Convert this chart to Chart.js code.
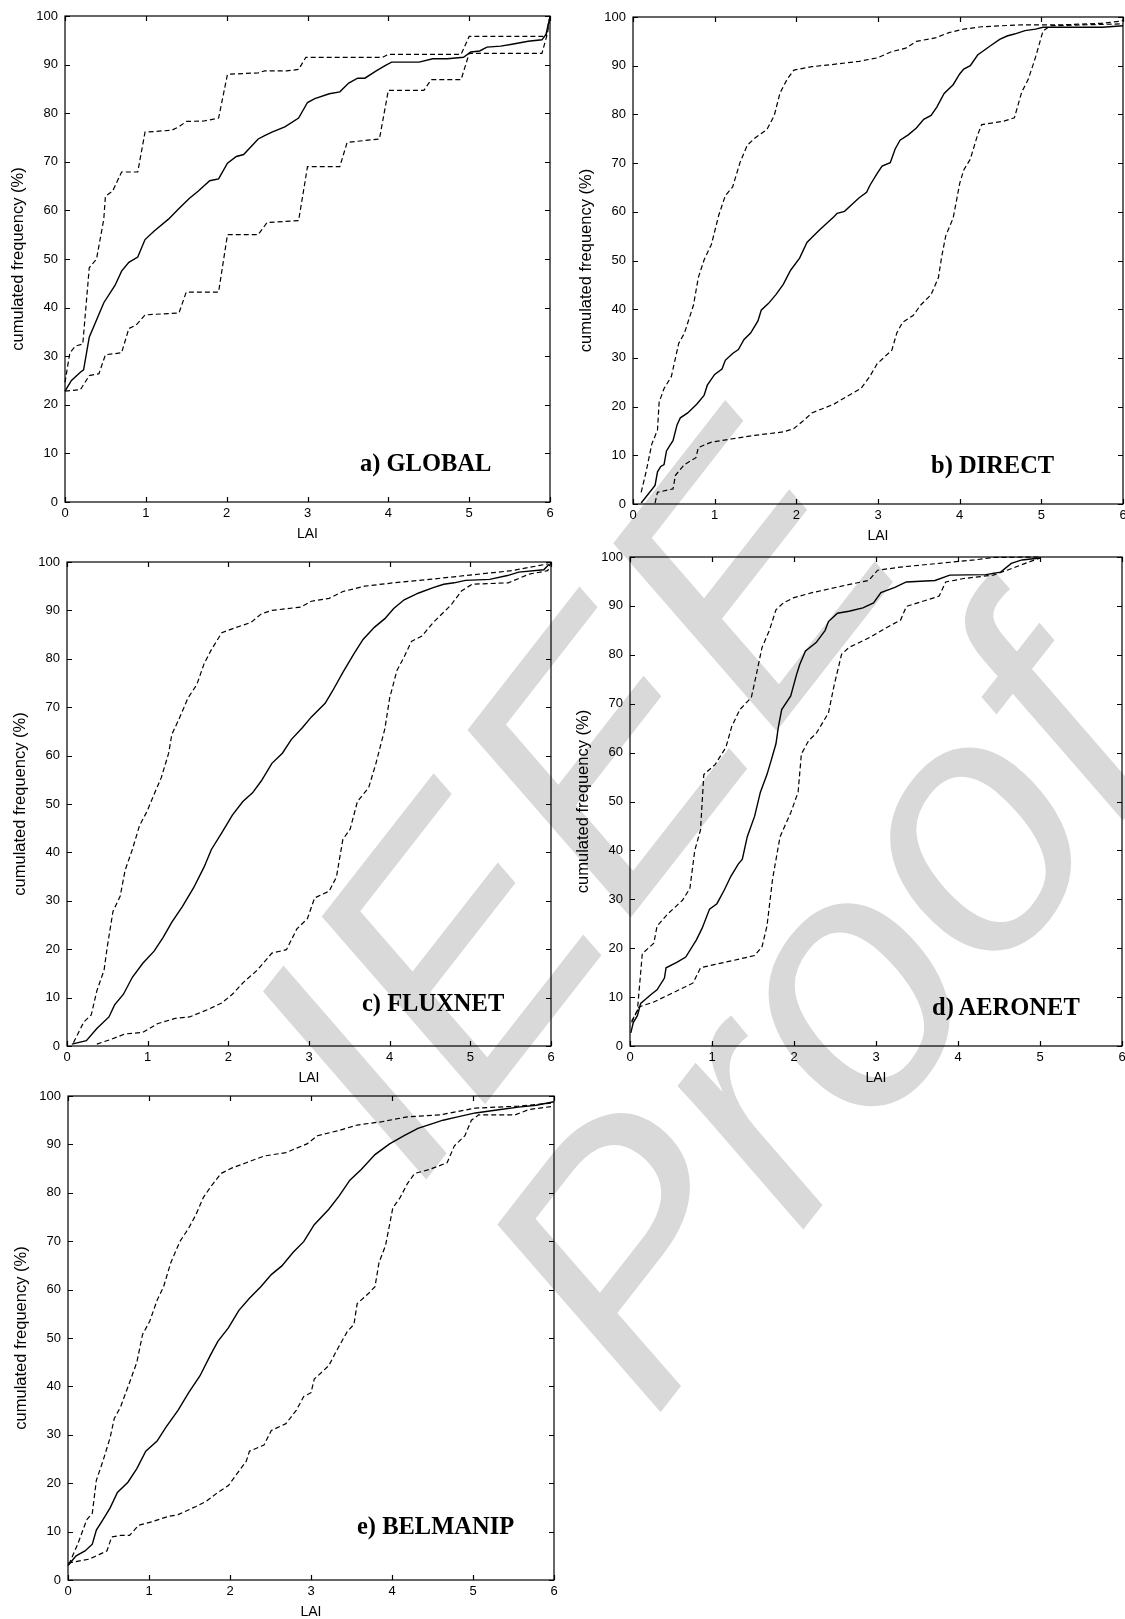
<!DOCTYPE html>
<html><head><meta charset="utf-8">
<script src="https://cdn.jsdelivr.net/npm/chart.js@4.4.0/dist/chart.umd.min.js"></script>
<style>
html,body{margin:0;padding:0;background:#fff;width:1125px;height:1619px;overflow:hidden;position:relative}
.panel{position:absolute;z-index:2}
.lbl{position:absolute;z-index:3;font-family:'Liberation Serif','Times New Roman',serif;font-size:24.5px;font-weight:bold;color:#000;white-space:nowrap;line-height:30px}
#wm{position:absolute;left:0;top:0;width:0;height:0;transform-origin:0 0;z-index:1}
#wm span{position:absolute;font-family:'Liberation Sans',Arial,sans-serif;font-style:italic;color:#d9d9d9;white-space:nowrap}
</style></head><body>
<div id="wm"></div>
<script>
// ---------- DATA ----------
const xTicks = [0,1,2,3,4,5,6];
const yTicks = [0,10,20,30,40,50,60,70,80,90,100];
const panelLabels = ['a) GLOBAL','b) DIRECT','c) FLUXNET','d) AERONET','e) BELMANIP'];
const xTitle = 'LAI';
const yTitle = 'cumulated frequency (%)';
const watermarkWords = ['IEEE','Proof'];

// a) GLOBAL
const globalMeanLAI = [0,0.08,0.19,0.23,0.3,0.48,0.62,0.7,0.79,0.9,0.99,1.1,1.28,1.41,1.54,1.65,1.79,1.9,2.01,2.12,2.21,2.39,2.47,2.56,2.72,2.89,3.0,3.09,3.27,3.4,3.51,3.62,3.71,3.85,3.96,4.04,4.38,4.55,4.73,4.93,5.02,5.13,5.22,5.39,5.53,5.73,5.9,5.95,6];
const globalMeanFreq = [22.8,25,26.7,27.2,33.9,41,44.6,47.5,49.3,50.4,54,55.7,58.2,60.4,62.5,64,66.1,66.5,69.7,71.1,71.5,74.7,75.4,76.1,77.2,79,82.2,83,84,84.4,86.2,87.2,87.2,88.7,89.8,90.5,90.5,91.2,91.2,91.5,92.6,92.8,93.6,93.8,94.2,94.8,95.1,96.2,99.8];
const globalUpperLAI = [0,0.06,0.13,0.22,0.3,0.39,0.48,0.5,0.59,0.7,0.9,0.99,1.32,1.41,1.5,1.72,1.9,2.01,2.39,2.47,2.74,2.89,2.98,3.93,4.0,4.9,5.0,5.95,6];
const globalUpperFreq = [24.6,30.7,32.1,32.5,48.2,50,58.2,62.9,64,67.9,67.9,76.1,76.5,77.2,78.3,78.4,79,88,88.3,88.7,88.7,89,91.5,91.5,92.1,92.1,95.8,95.8,100];
const globalLowerLAI = [0,0.19,0.3,0.42,0.5,0.7,0.79,0.88,0.99,1.41,1.5,1.9,2.01,2.39,2.5,2.89,3.0,3.4,3.49,3.89,4.0,4.44,4.53,4.9,5.0,5.9,5.97,6];
const globalLowerFreq = [22.8,23.1,26,26.4,30.3,30.7,35.7,36.4,38.5,38.9,43.2,43.2,55,55,57.5,57.9,69,69,74,74.7,84.7,84.7,86.9,86.9,92.3,92.3,96.5,100];

// b) DIRECT
const directMeanLAI = [0.1,0.27,0.3,0.34,0.38,0.41,0.45,0.49,0.54,0.58,0.67,0.78,0.87,0.91,1.0,1.09,1.13,1.22,1.29,1.36,1.44,1.53,1.57,1.66,1.75,1.84,1.93,2.04,2.13,2.19,2.28,2.37,2.46,2.5,2.59,2.68,2.77,2.86,2.9,2.99,3.05,3.15,3.21,3.27,3.37,3.47,3.56,3.65,3.72,3.81,3.92,4.0,4.05,4.13,4.22,4.36,4.49,4.58,4.67,4.8,4.93,5.02,5.75,6];
const directMeanFreq = [0.2,3.8,6.6,7.7,8.1,10.9,12,13,16.3,17.7,18.7,20.5,22.3,24.4,26.6,27.7,29.5,30.9,31.7,33.8,35.1,37.6,39.8,41.2,43,45.1,48,50.5,53.7,54.7,56.2,57.6,59,59.7,60.1,61.5,62.9,64,65.4,67.9,69.4,70.1,72.9,74.7,75.8,77.2,79,79.8,81.5,84.3,86.1,88.3,89.3,90,92.2,93.9,95.4,96.1,96.5,97.2,97.5,97.9,97.9,98.2];
const directUpperLAI = [0.1,0.16,0.23,0.3,0.32,0.38,0.47,0.56,0.63,0.74,0.8,0.87,0.96,1.05,1.13,1.22,1.31,1.4,1.49,1.64,1.73,1.8,1.89,1.97,2.19,2.42,2.77,2.99,3.17,3.34,3.47,3.7,3.87,4.05,4.27,4.76,5.28,5.73,5.95,6];
const directUpperFreq = [2.4,6.6,12.3,15.2,20.9,23.7,26.2,33,35.1,40.8,46.5,50.1,53.3,59.3,63.3,65.1,70.1,73.7,75.1,76.9,79.8,84.4,87.3,89.1,89.8,90.2,90.9,91.6,92.9,93.6,95,95.7,96.8,97.5,98,98.4,98.4,98.7,99.1,99.3];
const directLowerLAI = [0.27,0.3,0.49,0.52,0.63,0.77,0.8,0.96,1.22,1.49,1.84,1.97,2.1,2.19,2.46,2.64,2.79,2.9,2.99,3.17,3.23,3.3,3.43,3.52,3.65,3.74,3.78,3.83,3.92,3.96,4.0,4.05,4.13,4.22,4.27,4.54,4.67,4.76,4.84,4.93,5.02,5.11,6];
const directLowerFreq = [0.2,2.4,3.1,5.9,8.1,9.5,11.6,12.7,13.4,14.1,14.8,15.5,17.3,18.7,20.5,22.3,23.7,26.2,28.8,31.6,35.1,37.3,38.7,40.8,43,46.5,50.8,55.1,58.7,62.2,65.8,68.6,70.8,75.8,77.9,78.6,79.3,84.6,87.2,91.8,97.1,98.2,98.6];

// c) FLUXNET
const fluxMeanLAI = [0.06,0.24,0.37,0.52,0.59,0.7,0.81,0.94,1.08,1.19,1.3,1.43,1.57,1.7,1.79,1.92,2.05,2.18,2.3,2.41,2.54,2.67,2.78,2.92,3.03,3.2,3.29,3.42,3.56,3.67,3.81,3.94,4.05,4.18,4.36,4.54,4.67,4.8,4.94,5.24,5.46,5.6,5.91,5.98];
const fluxMeanFreq = [0.4,1.1,3.6,6,8.5,10.7,14.2,17.1,19.6,22.4,25.6,28.8,32.7,37,40.6,44.1,47.7,50.5,52.3,54.8,58.4,60.5,63.3,65.8,68,70.8,73.3,77.2,81.1,84,86.5,88.3,90.4,92.2,93.6,94.7,95.4,95.7,96.2,96.4,97.2,97.9,98.4,99.6];
const fluxUpperLAI = [0.08,0.21,0.3,0.37,0.46,0.5,0.57,0.66,0.72,0.81,0.9,0.99,1.08,1.17,1.26,1.3,1.39,1.5,1.61,1.7,1.79,1.92,2.1,2.28,2.41,2.54,2.9,3.03,3.25,3.42,3.69,4.05,4.49,4.94,5.51,5.96];
const fluxUpperFreq = [0.7,5,6.4,11.4,15.7,20.6,27.8,31,36.3,40.6,45.6,48.4,52,55.5,60.5,64.4,67.6,71.9,74.7,79,81.9,85.4,86.5,87.5,89.3,90,90.7,91.9,92.5,93.9,95,95.7,96.4,97.2,98.2,99.6];
const fluxLowerLAI = [0.37,0.55,0.72,0.94,1.12,1.34,1.52,1.74,1.92,2.05,2.19,2.36,2.54,2.72,2.85,2.98,3.07,3.25,3.34,3.42,3.51,3.6,3.74,3.83,3.94,4.0,4.09,4.18,4.27,4.4,4.54,4.76,4.89,5.02,5.47,5.73,5.96,6];
const fluxLowerFreq = [0.4,1.4,2.5,2.8,4.6,5.7,6,7.5,8.9,10.7,13.2,15.7,19.2,19.9,24.2,26.3,30.6,32,34.9,42.7,44.8,50.5,53.4,58.4,65.5,71.9,77.6,80.4,83.6,84.7,87.5,91.1,94,95.4,95.7,97.5,98.2,100];

// d) AERONET
const aeroMeanLAI = [0.01,0.04,0.09,0.13,0.2,0.26,0.33,0.42,0.44,0.57,0.68,0.81,0.88,0.97,1.06,1.15,1.23,1.32,1.37,1.43,1.52,1.59,1.67,1.72,1.78,1.81,1.85,1.96,2.03,2.07,2.14,2.27,2.38,2.42,2.53,2.67,2.84,2.97,3.06,3.23,3.37,3.72,3.9,4.34,4.52,4.65,4.78,5.0];
const aeroMeanFreq = [2.7,4.8,6.2,8.7,9.7,10.6,11.5,13.9,16,17.1,18.2,21.7,24.1,28,29.1,31.9,34.7,37.2,38.2,42.8,47,51.9,55.5,58.3,61.8,65.3,68.8,71.6,75.9,78,80.8,82.5,85,86.8,88.5,88.9,89.6,90.6,92.7,93.8,94.9,95.2,96.3,96.4,96.9,98.7,99.4,99.8];
const aeroUpperLAI = [0.02,0.09,0.15,0.29,0.33,0.46,0.64,0.73,0.79,0.86,0.9,1.04,1.17,1.24,1.34,1.48,1.54,1.61,1.7,1.78,1.87,2.0,2.22,2.62,2.91,3.02,3.33,3.77,4.2,4.43,5.0];
const aeroUpperFreq = [5.1,7.2,18.9,21,24.5,27,29.8,32.2,40,44.2,55.5,57.6,61.1,65.3,68.8,71.3,75.9,81.5,85,89.2,90.6,91.7,92.7,94.2,95.2,97.3,98,98.7,99.4,99.9,100];
const aeroLowerLAI = [0.02,0.11,0.29,0.55,0.77,0.86,1.04,1.26,1.52,1.61,1.67,1.74,1.83,1.96,2.05,2.09,2.18,2.27,2.42,2.49,2.58,2.67,2.93,3.11,3.3,3.37,3.77,3.85,4.07,4.43,4.6,4.82,5.0];
const aeroLowerFreq = [4.8,8,9,11.1,12.9,16,16.7,17.5,18.5,20.3,24.5,34.3,42.8,47.7,51.9,59.7,62.5,63.9,68.1,73.8,80.1,81.5,83.6,85.4,87.1,89.9,92,94.9,95.6,96.3,97.3,98.7,99.8];

// e) BELMANIP
const belMeanLAI = [0,0.1,0.21,0.3,0.35,0.43,0.52,0.61,0.74,0.85,0.96,1.1,1.21,1.36,1.49,1.63,1.76,1.85,1.98,2.11,2.24,2.38,2.51,2.64,2.78,2.91,3.04,3.22,3.35,3.48,3.62,3.79,3.97,4.15,4.32,4.5,4.63,4.81,5.03,5.34,5.56,5.78,6];
const belMeanFreq = [3,5,6,7.4,10.3,12.4,14.9,18.1,20.2,23,26.6,28.7,31.6,35.1,38.7,42.2,46.5,49.3,52.1,55.7,58.2,60.6,63.1,64.9,67.7,69.9,73.4,76.6,79.4,82.6,84.8,87.9,90.1,91.8,93.3,94.3,95,95.7,96.5,97.2,97.7,98.1,98.8];
const belUpperLAI = [0.01,0.12,0.23,0.3,0.35,0.43,0.52,0.57,0.65,0.76,0.85,0.92,1.01,1.1,1.18,1.27,1.38,1.49,1.58,1.67,1.76,1.89,2.02,2.2,2.42,2.69,2.95,3.08,3.35,3.57,3.88,4.19,4.59,5.03,5.56,6];
const belUpperFreq = [3.2,7.4,12.4,13.8,20.6,24.5,29.4,33.3,35.8,40.8,45,50.7,53.5,57.8,60.6,65.6,69.9,72.7,75.5,79,81.2,84,85.1,86.2,87.6,88.3,90.1,91.8,92.9,94,94.7,95.7,96.1,97.5,97.9,98.6];
const belLowerLAI = [0,0.26,0.39,0.48,0.54,0.65,0.76,0.87,1.05,1.23,1.36,1.58,1.71,1.85,1.98,2.07,2.2,2.24,2.42,2.51,2.69,2.82,2.91,3.0,3.04,3.22,3.31,3.45,3.53,3.57,3.71,3.79,3.84,3.92,3.97,4.01,4.1,4.19,4.28,4.37,4.46,4.68,4.77,4.9,4.98,5.07,5.52,5.69,6];
const belLowerFreq = [3.5,4.3,5.3,6,8.9,9.2,9.2,11.3,12.1,13.1,13.5,15.2,16.3,18.1,19.5,21.6,24.5,26.6,27.9,30.9,32.3,35.1,37.9,38.7,41.5,44.3,47.2,51.4,52.8,57.1,59.2,60.6,65.6,69.1,73.4,76.9,79,81.9,84,84.4,84.8,86.2,89.7,91.8,95,96.1,96.1,97.2,97.9];

// ---------- LAYOUT (positions only) ----------
const layout = [
  {box:[65,16,550,502],  lab:[360,463]},
  {box:[633,17,1123,504], lab:[931,465]},
  {box:[67,562,551,1046], lab:[362,1003]},
  {box:[630,557,1122,1046], lab:[932,1007]},
  {box:[68,1096,554,1580], lab:[357,1526]}
];
const seriesSets = [
  [[globalMeanLAI,globalMeanFreq],[globalUpperLAI,globalUpperFreq],[globalLowerLAI,globalLowerFreq]],
  [[directMeanLAI,directMeanFreq],[directUpperLAI,directUpperFreq],[directLowerLAI,directLowerFreq]],
  [[fluxMeanLAI,fluxMeanFreq],[fluxUpperLAI,fluxUpperFreq],[fluxLowerLAI,fluxLowerFreq]],
  [[aeroMeanLAI,aeroMeanFreq],[aeroUpperLAI,aeroUpperFreq],[aeroLowerLAI,aeroLowerFreq]],
  [[belMeanLAI,belMeanFreq],[belUpperLAI,belUpperFreq],[belLowerLAI,belLowerFreq]]
];
// watermark: rotated frame; word start along baseline and baseline offset
const wmAngle = -52, wmSize = 355;
const wmPlace = [{u:-681, base:1063}, {u:-717, base:1391}];

(function(){
  const wm = document.getElementById('wm');
  wm.style.transform = 'rotate(' + wmAngle + 'deg)';
  watermarkWords.forEach((w, i) => {
    const s = document.createElement('span');
    s.textContent = w;
    s.style.fontSize = wmSize + 'px';
    s.style.lineHeight = wmSize + 'px';
    s.style.left = wmPlace[i].u + 'px';
    s.style.top = (wmPlace[i].base - 0.8465*wmSize) + 'px';
    wm.appendChild(s);
  });
})();

const PAD_L = 70, PAD_T = 10, PAD_R = 20, PAD_B = 45;
const FONT = "'Liberation Sans', Arial, sans-serif";

const frameTicks = {
  id:'frameTicks',
  afterDatasetsDraw(chart){
    const {ctx, chartArea:{left,right,top,bottom}, scales:{x,y}} = chart;
    ctx.save();
    ctx.strokeStyle='#000'; ctx.lineWidth=1.2; ctx.setLineDash([]);
    ctx.strokeRect(left,top,right-left,bottom-top);
    ctx.beginPath();
    x.ticks.forEach(t=>{const px=Math.round(x.getPixelForValue(t.value))+0.5;
      ctx.moveTo(px,bottom); ctx.lineTo(px,bottom-5); ctx.moveTo(px,top); ctx.lineTo(px,top+5);});
    y.ticks.forEach(t=>{const py=Math.round(y.getPixelForValue(t.value))+0.5;
      ctx.moveTo(left,py); ctx.lineTo(left+5,py); ctx.moveTo(right,py); ctx.lineTo(right-5,py);});
    ctx.stroke(); ctx.restore();
  }
};

function zip(xs, ys){ const n=Math.min(xs.length, ys.length); const out=[]; for(let i=0;i<n;i++) out.push({x:xs[i], y:ys[i]}); return out; }

layout.forEach((L, i) => {
  const [l,t,r,b] = L.box;
  const W = (r-l) + PAD_L + PAD_R, H = (b-t) + PAD_T + PAD_B;
  const div = document.createElement('div');
  div.className='panel';
  div.style.left=(l-PAD_L)+'px'; div.style.top=(t-PAD_T)+'px';
  div.style.width=W+'px'; div.style.height=H+'px';
  const cv = document.createElement('canvas');
  cv.width=W; cv.height=H; cv.style.width=W+'px'; cv.style.height=H+'px';
  div.appendChild(cv); document.body.appendChild(div);

  const lbl = document.createElement('div');
  lbl.className='lbl'; lbl.textContent=panelLabels[i];
  lbl.style.left=L.lab[0]+'px'; lbl.style.top=(L.lab[1]-15)+'px';
  document.body.appendChild(lbl);

  const sets = seriesSets[i];
  const datasets = sets.map((s, k) => ({
    data: zip(s[0], s[1]),
    borderColor:'#000', borderWidth: k===0 ? 1.4 : 1.2,
    borderDash: k===0 ? [] : [5,3],
    pointRadius:0, tension:0, fill:false, clip:3
  }));

  new Chart(cv, {
    type:'line',
    data:{datasets},
    options:{
      responsive:false, animation:false, devicePixelRatio:1,
      layout:{padding:{top:PAD_T,right:PAD_R,left:0,bottom:0}},
      plugins:{legend:{display:false}, tooltip:{enabled:false}, title:{display:false}},
      scales:{
        x:{type:'linear', min:xTicks[0], max:xTicks[xTicks.length-1],
           afterBuildTicks(s){ s.ticks = xTicks.map(v=>({value:v})); },
           afterFit(s){ s.height = PAD_B; s.paddingLeft = 0; s.paddingRight = 0; },
           grid:{display:false, drawTicks:false, tickLength:0}, border:{display:false},
           ticks:{color:'#000', padding:4, maxRotation:0, autoSkip:false, font:{family:FONT, size:13}},
           title:{display:true, text:xTitle, color:'#000', font:{family:FONT, size:14}, padding:{top:0,bottom:4}}},
        y:{type:'linear', min:yTicks[0], max:yTicks[yTicks.length-1],
           afterBuildTicks(s){ s.ticks = yTicks.map(v=>({value:v})); },
           afterFit(s){ s.width = PAD_L; s.paddingTop = 0; s.paddingBottom = 0; },
           grid:{display:false, drawTicks:false, tickLength:0}, border:{display:false},
           ticks:{color:'#000', padding:7, autoSkip:false, font:{family:FONT, size:13}},
           title:{display:true, text:yTitle, color:'#000', font:{family:FONT, size:16.5}, padding:{top:14,bottom:0}}}
      }
    },
    plugins:[frameTicks]
  });
});
</script>
</body></html>
